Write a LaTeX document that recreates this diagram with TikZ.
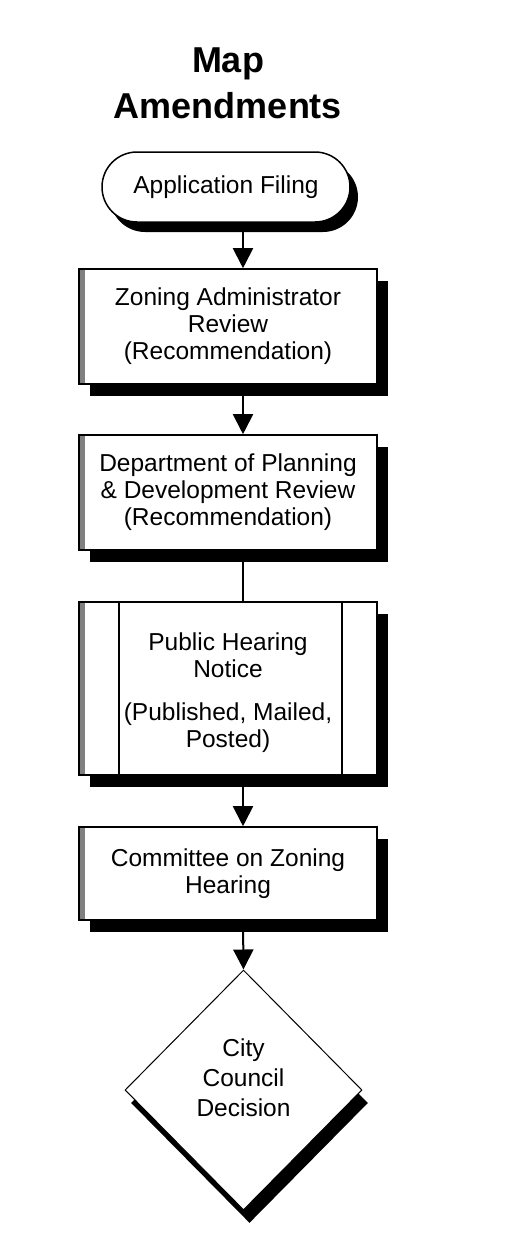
\documentclass[tikz,border=0pt]{standalone}
\usepackage{fontspec}
\setmainfont{Liberation Sans}
\usetikzlibrary{arrows.meta,shapes.geometric,shadows}
\begin{document}
\begin{tikzpicture}[x=1pt,y=-1pt,
  txt/.style={font=\fontsize{24.5}{27}\selectfont, align=center},
  procbox/.style={draw, line width=1.6pt, fill=white, minimum width=298pt, inner sep=0pt, txt,
     drop shadow={shadow xshift=11pt, shadow yshift=-12pt, fill=black, opacity=1},
     path picture={\fill[black!50] (path picture bounding box.north west) rectangle ([xshift=6pt]path picture bounding box.south west);}},
  predefbox/.style={draw, line width=1.6pt, fill=white, minimum width=298pt, inner sep=0pt, txt,
     drop shadow={shadow xshift=11pt, shadow yshift=-12pt, fill=black, opacity=1},
     path picture={\fill[black!50] (path picture bounding box.north west) rectangle ([xshift=6pt]path picture bounding box.south west);
       \draw[line width=1.6pt] ([xshift=40pt]path picture bounding box.north west) -- ([xshift=40pt]path picture bounding box.south west);
       \draw[line width=1.6pt] ([xshift=-35pt]path picture bounding box.north east) -- ([xshift=-35pt]path picture bounding box.south east);}},
  terminal/.style={draw, line width=1.5pt, fill=white, rectangle, rounded corners=35pt, minimum width=248pt, minimum height=70pt, inner sep=0pt, txt,
     drop shadow={shadow xshift=8pt, shadow yshift=-10pt, fill=black, opacity=1}},
  decision/.style={draw, line width=1pt, fill=white, diamond, minimum width=237pt, minimum height=240pt, inner sep=0pt,
     drop shadow={shadow xshift=6pt, shadow yshift=-13pt, fill=black, opacity=1}},
  arr/.style={line width=2pt, -{Triangle[width=20pt,length=20pt]}},
  plain/.style={line width=2pt},
  title/.style={font=\bfseries\fontsize{36}{46}\selectfont, align=center}
]
\useasboundingbox[fill=white] (0,0) rectangle (526,1235);
\coordinate (spine) at (243,0);

\node[title] (ttl) at (228,83) {Map\\Amendments};

\node[terminal] (app) at (226,187) {Application Filing};
\node[procbox, minimum height=115pt] (zar) at (228,326.5) {Zoning Administrator\\Review\\(Recommendation)};
\node[procbox, minimum height=115pt] (dpd) at (228,492.5) {Department of Planning\\\& Development Review\\(Recommendation)};
\node[predefbox, minimum height=173pt] (phn) at (228,688.5) {\rule{0pt}{26pt}Public Hearing\\Notice\\[16pt](Published, Mailed,\\Posted)};
\node[procbox, minimum height=93pt] (coz) at (228,873.5) {Committee on Zoning\\Hearing};
\node[decision, label={[txt, font=\fontsize{24.5}{30}\selectfont, yshift=12pt]center:City\\Council\\Decision}] (dec) at (243.5,1090) {};

\draw[arr] (app.south -| spine) -- (zar.north -| spine);
\draw[arr] (zar.south -| spine) -- (dpd.north -| spine);
\draw[plain] (dpd.south -| spine) -- (phn.north -| spine);
\draw[arr] (phn.south -| spine) -- (coz.north -| spine);
\draw[arr] (coz.south -| spine) -- (dec.north);
\end{tikzpicture}
\end{document}
